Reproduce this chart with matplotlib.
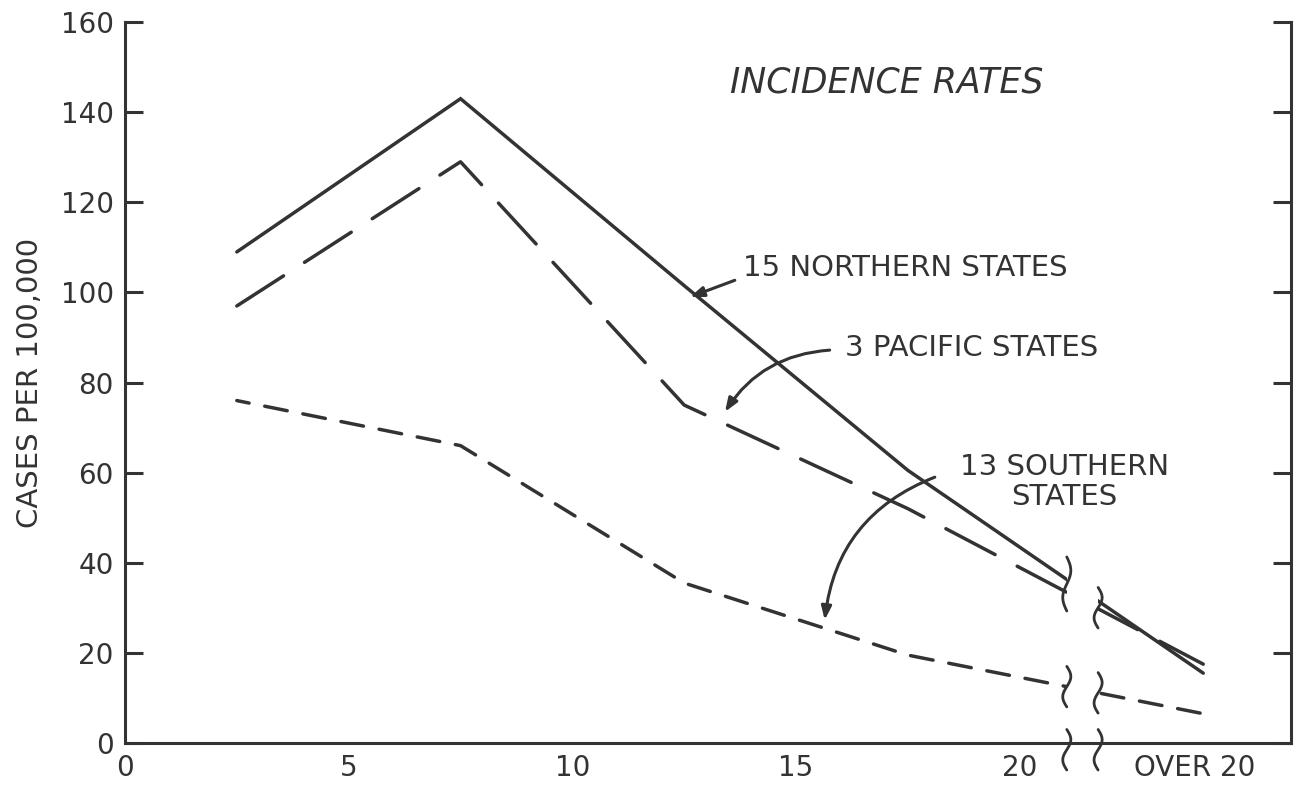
import numpy as np
import matplotlib
matplotlib.use("Agg")
import matplotlib.pyplot as plt

# age groups (years) - last point is the "over 20" group
age = [2.5, 7.5, 12.5, 17.5, 24.1]
northern = [109, 143, 101.5, 60.5, 15.5]
pacific = [97, 129, 75, 52, 17.5]
southern = [76, 66, 35.5, 19.5, 6.5]

x_ticks = [0, 5, 10, 15, 20]
x_over = 23.9
y_ticks = [0, 20, 40, 60, 80, 100, 120, 140, 160]
break_lo, break_hi = 21.05, 21.75

ink = "#333333"
plt.rcParams['font.family'] = ['DejaVu Sans']

fig = plt.figure(figsize=(12.99, 7.9), dpi=100)
ax = fig.add_axes([0.0962, 0.0595, 0.8976, 0.9125])

lw = 2.5
ax.plot(age, northern, color=ink, lw=lw, solid_capstyle='round', solid_joinstyle='miter')
ax.plot(age, pacific, color=ink, lw=lw, linestyle=(0, (16, 7.2)), dash_capstyle='round')
ax.plot(age, southern, color=ink, lw=lw, linestyle=(3, (6.6, 4.6)), dash_capstyle='round')

# scale break: blank the lines between the two wavy marks
ax.axvspan(break_lo, break_hi, ymin=0.02, ymax=1, color='white', zorder=3, lw=0)


def squiggle(x0, yc, h):
    t = np.linspace(-1, 1, 60)
    ax.plot(x0 + 0.09 * np.sin(np.pi * t), yc + t * h / 2, color=ink, lw=2,
            zorder=4, clip_on=False, solid_capstyle='round')


top_lo = np.interp(break_lo, age, northern)
top_hi = np.interp(break_hi, age, northern)
squiggle(break_lo, top_lo - 1, 12)
squiggle(break_hi, top_hi - 1.5, 9)
squiggle(break_lo, np.interp(break_lo, age, southern), 9)
squiggle(break_hi, np.interp(break_hi, age, southern), 9)
squiggle(break_lo, -1.5, 9)
squiggle(break_hi, -1.5, 9)

ax.set_xlim(0, 26.06)
ax.set_ylim(0, 160)
ax.spines['top'].set_visible(False)
for s in ['left', 'right', 'bottom']:
    ax.spines[s].set_linewidth(2.2)
    ax.spines[s].set_color(ink)

ax.set_xticks(x_ticks)
ax.set_xticks([x_over], ['OVER 20'], minor=True)
ax.set_yticks(y_ticks)
ax.tick_params(axis='both', which='major', direction='in', length=13, width=2.2,
               color=ink, labelcolor=ink, labelsize=20, right=True, pad=8)
ax.tick_params(axis='x', which='minor', length=0, labelcolor=ink, labelsize=20, pad=8)
for t in ax.xaxis.get_major_ticks():
    if t.get_loc() == 0:
        t.tick1line.set_visible(False)

ax.set_ylabel('CASES PER 100,000', fontsize=21, color=ink, labelpad=12)

ax.text(13.52, 146.7, 'INCIDENCE RATES', fontsize=25, style='italic', color=ink,
        va='center', ha='left')

arrow = dict(arrowstyle='-|>,head_length=0.8,head_width=0.3', color=ink, lw=2.2,
             shrinkA=0, shrinkB=0)
ax.annotate('', xy=(12.63, 99.0), xytext=(13.63, 102.7), arrowprops=arrow)
ax.text(13.81, 105.4, '15 NORTHERN STATES', fontsize=21, color=ink, va='center', ha='left')
ax.annotate('', xy=(13.41, 73.5), xytext=(15.75, 87.2),
            arrowprops=dict(arrow, connectionstyle='arc3,rad=0.25'))
ax.text(16.09, 87.7, '3 PACIFIC STATES', fontsize=21, color=ink, va='center', ha='left')
ax.annotate('', xy=(15.64, 27.3), xytext=(18.1, 59.0),
            arrowprops=dict(arrow, connectionstyle='arc3,rad=0.3'))
ax.text(21.0, 57.9, '13 SOUTHERN\nSTATES', fontsize=21, color=ink, va='center',
        ha='center', multialignment='center', linespacing=1.1)

plt.savefig('out.png', dpi=100, facecolor='white')
